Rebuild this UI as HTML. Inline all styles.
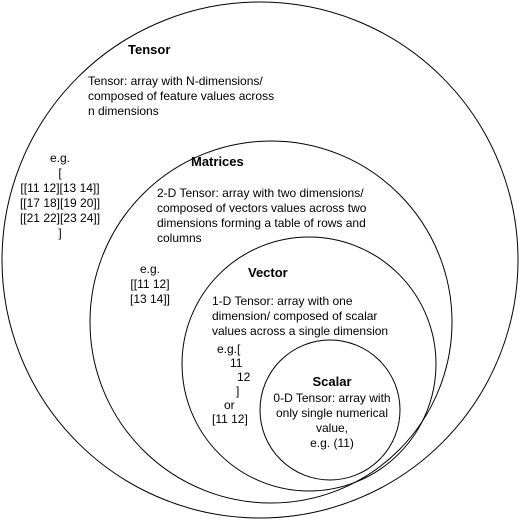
<!DOCTYPE html>
<html><head><style>
body{margin:0;background:#fff;}
.t{position:absolute;font-family:"Liberation Sans",Arial,sans-serif;font-size:12px;color:#000;line-height:15px;white-space:nowrap;}
.b{font-weight:bold;font-size:13px;}
.c{text-align:center;}
</style></head><body>
<div style="position:relative;width:521px;height:521px;overflow:hidden">
<svg width="521" height="521" style="position:absolute;left:0;top:0">
<g fill="none" stroke="#000" stroke-width="1">
<circle cx="260" cy="260" r="258"/>
<circle cx="271" cy="322" r="181"/>
<circle cx="309" cy="364" r="127"/>
<circle cx="330" cy="410" r="70"/>
</g></svg>
<div class="t b" style="left:128px;top:42px">Tensor</div>
<div class="t" style="left:88px;top:74px">Tensor: array with N-dimensions/<br>composed of feature values across<br>n dimensions</div>
<div class="t c" style="left:10px;top:151px;width:100px">e.g.<br>[<br>[[11 12][13 14]]<br>[[17 18][19 20]]<br>[[21 22][23 24]]<br>]</div>
<div class="t b" style="left:191px;top:154px">Matrices</div>
<div class="t" style="left:157px;top:186px">2-D Tensor: array with two dimensions/<br>composed of vectors values across two<br>dimensions forming a table of rows and<br>columns</div>
<div class="t c" style="left:110px;top:262px;width:80px">e.g.<br>[[11 12]<br>[13 14]]</div>
<div class="t b" style="left:248px;top:265px">Vector</div>
<div class="t" style="left:212px;top:294px">1-D Tensor: array with one</div>
<div class="t" style="left:212px;top:309px">dimension/&nbsp;composed&nbsp;of&nbsp;scalar</div>
<div class="t" style="left:212px;top:324px">values across a single dimension</div>
<div class="t" style="left:217px;top:342px">e.g.[</div>
<div class="t" style="left:230px;top:356px">11</div>
<div class="t" style="left:237px;top:370px">12</div>
<div class="t" style="left:236px;top:384px">]</div>
<div class="t" style="left:224px;top:398px">or</div>
<div class="t" style="left:212px;top:412px">[11 12]</div>
<div class="t b c" style="left:270px;top:374px;width:124px">Scalar</div>
<div class="t c" style="left:270px;top:391px;width:124px">0-D Tensor: array with<br>only single numerical<br>value,<br>e.g. (11)</div>
</div>
</body></html>
